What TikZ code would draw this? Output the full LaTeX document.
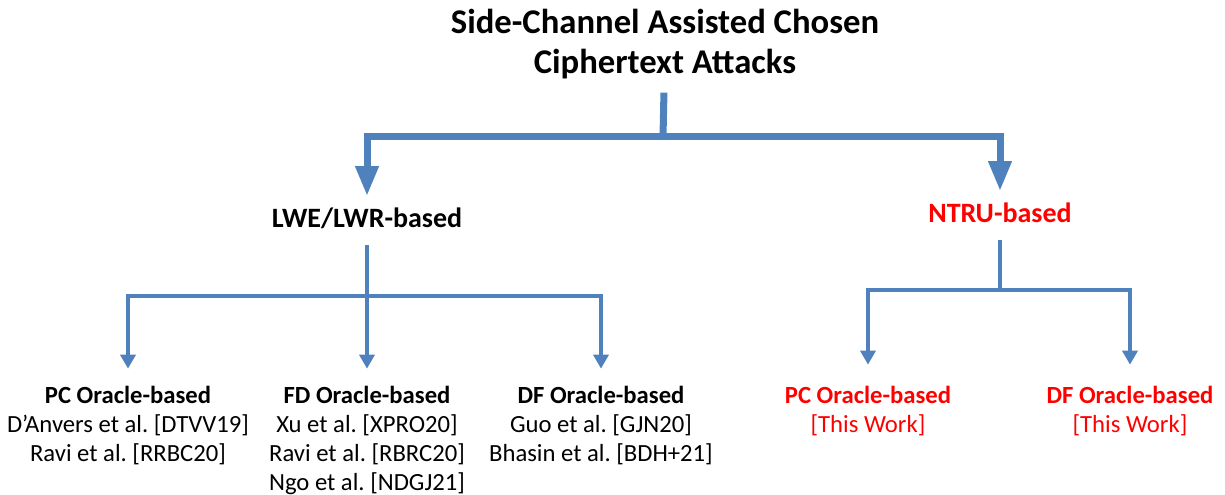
\documentclass[tikz,border=0pt]{standalone}
\usepackage{fontspec}
\setmainfont{Carlito}
\usepackage{tikz}
\usetikzlibrary{arrows.meta}
\definecolor{linkblue}{RGB}{79,129,189}
\definecolor{workred}{RGB}{255,0,0}
\frenchspacing

\begin{document}
\begin{tikzpicture}[x=0.75pt,y=-0.75pt]
        \useasboundingbox (0,0) rectangle (1225,495);
        \tikzstyle{head} = [font=\fontsize{26}{30}\selectfont\bfseries, align=center, anchor=north, inner sep=0pt]
        \tikzstyle{family} = [font=\fontsize{21}{24}\selectfont\bfseries, anchor=base, inner sep=0pt, text height=14pt, text depth=3pt]
        \tikzstyle{leaf} = [font=\fontsize{18.5}{21.75}\selectfont, align=center, anchor=north, inner sep=0pt]
        \tikzstyle{trunk} = [draw=linkblue, line width=5.25pt, >={Triangle[length=22.5pt,width=16.5pt]}]
        \tikzstyle{branch} = [draw=linkblue, line width=3.6pt, >={Triangle[length=10.5pt,width=11.25pt]}]
        % titles
        \node[head] (title) at (665,9) {Side-Channel Assisted Chosen\\Ciphertext Attacks};
        \node[family] (lwe) at (367,228) {LWE/LWR-based};
        \node[family, text=workred] (ntru) at (1000,223) {NTRU-based};
        % leaves
        \node[leaf] (pcl) at (128,386) {\textbf{PC Oracle-based}\\D'Anvers et al. [DTVV19]\\Ravi et al. [RRBC20]};
        \node[leaf] (fdl) at (367,386) {\textbf{FD Oracle-based}\\Xu et al. [XPRO20]\\Ravi et al. [RBRC20]\\Ngo et al. [NDGJ21]};
        \node[leaf] (dfl) at (601,386) {\textbf{DF Oracle-based}\\Guo et al. [GJN20]\\Bhasin et al. [BDH+21]};
        \node[leaf, text=workred] (pcn) at (868,386) {\textbf{PC Oracle-based}\\{[This Work]}};
        \node[leaf, text=workred] (dfn) at (1130,386) {\textbf{DF Oracle-based}\\{[This Work]}};
        % junctions
        \coordinate (root) at (663,137);
        \coordinate (jl) at (367,296);
        \coordinate (jn) at (1000,290);
        \draw[trunk, shorten <=10pt] (title) -- (root);
        \draw[trunk, ->, shorten >=9.75pt] (root) -| (lwe);
        \draw[trunk, ->, shorten >=9.75pt] (root) -| (ntru);
        \draw[branch, shorten <=9.75pt] (lwe) -- (jl);
        \draw[branch, ->, shorten >=13pt] (jl) -| (pcl);
        \draw[branch, ->, shorten >=13pt] (jl) -- (fdl);
        \draw[branch, ->, shorten >=13pt] (jl) -| (dfl);
        \draw[branch, shorten <=9.75pt] (ntru) -- (jn);
        \draw[branch, ->, shorten >=16pt] (jn) -| (pcn);
        \draw[branch, ->, shorten >=16pt] (jn) -| (dfn);
       \end{tikzpicture}
\end{document}
